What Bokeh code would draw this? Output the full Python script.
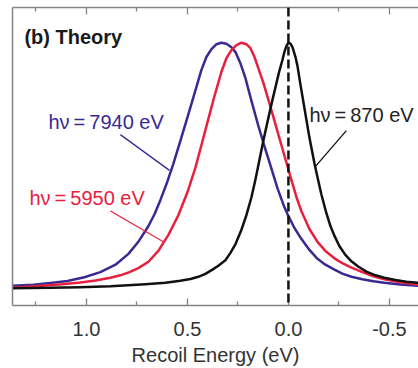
from bokeh.plotting import figure
from bokeh.models import Range1d, LinearAxis, FixedTicker, Span, Label, NumeralTickFormatter
from bokeh.embed import file_html
from bokeh.resources import INLINE

# Recoil energy (eV) and normalized intensity
black_x = [1.366, 1.178, 1.035, 0.881, 0.708, 0.609, 0.535, 0.485, 0.446, 0.411,
           0.376, 0.347, 0.312, 0.287, 0.262, 0.233, 0.208, 0.183, 0.163, 0.149,
           0.124, 0.099, 0.079, 0.059, 0.045, 0.030, 0.020, 0.010, 0.000, -0.010,
           -0.020, -0.035, -0.045, -0.059, -0.079, -0.104, -0.129, -0.144, -0.163, -0.188,
           -0.208, -0.228, -0.252, -0.282, -0.312, -0.347, -0.386, -0.431, -0.475, -0.530,
           -0.584, -0.644]
black_y = [0.002, 0.004, 0.006, 0.010, 0.018, 0.024, 0.032, 0.039, 0.048, 0.060,
           0.077, 0.093, 0.115, 0.145, 0.181, 0.238, 0.298, 0.371, 0.444, 0.500,
           0.601, 0.694, 0.766, 0.835, 0.883, 0.927, 0.960, 0.984, 0.998, 0.994,
           0.980, 0.940, 0.903, 0.831, 0.734, 0.613, 0.508, 0.452, 0.383, 0.306,
           0.254, 0.214, 0.173, 0.137, 0.111, 0.089, 0.069, 0.054, 0.044, 0.035,
           0.028, 0.024]

red_x = [1.366, 1.252, 1.119, 1.030, 0.955, 0.881, 0.832, 0.787, 0.743, 0.693,
         0.644, 0.594, 0.545, 0.500, 0.460, 0.426, 0.396, 0.366, 0.332, 0.307,
         0.282, 0.257, 0.233, 0.208, 0.188, 0.168, 0.149, 0.124, 0.099, 0.069,
         0.040, 0.010, -0.015, -0.040, -0.064, -0.104, -0.144, -0.183, -0.228, -0.267,
         -0.312, -0.366, -0.421, -0.475, -0.554, -0.644]
red_y = [0.004, 0.010, 0.018, 0.025, 0.033, 0.044, 0.054, 0.067, 0.083, 0.109,
         0.153, 0.218, 0.298, 0.391, 0.492, 0.597, 0.690, 0.782, 0.879, 0.935,
         0.968, 0.988, 0.998, 0.992, 0.976, 0.940, 0.895, 0.835, 0.766, 0.681,
         0.597, 0.512, 0.440, 0.371, 0.315, 0.242, 0.190, 0.153, 0.123, 0.103,
         0.085, 0.067, 0.050, 0.038, 0.026, 0.016]

blue_x = [1.366, 1.262, 1.178, 1.094, 1.010, 0.931, 0.856, 0.792, 0.743, 0.693,
          0.663, 0.634, 0.599, 0.569, 0.530, 0.480, 0.431, 0.406, 0.381, 0.356,
          0.332, 0.307, 0.282, 0.262, 0.238, 0.213, 0.183, 0.149, 0.114, 0.089,
          0.054, 0.020, 0.000, -0.030, -0.064, -0.104, -0.144, -0.183, -0.228, -0.267,
          -0.312, -0.366, -0.421, -0.475, -0.554, -0.644]
blue_y = [0.012, 0.016, 0.023, 0.031, 0.046, 0.067, 0.097, 0.141, 0.190, 0.254,
          0.302, 0.359, 0.435, 0.508, 0.613, 0.750, 0.887, 0.940, 0.972, 0.992,
          0.998, 0.994, 0.980, 0.960, 0.915, 0.855, 0.762, 0.661, 0.565, 0.500,
          0.407, 0.331, 0.294, 0.246, 0.202, 0.157, 0.121, 0.097, 0.077, 0.061,
          0.048, 0.038, 0.030, 0.024, 0.017, 0.012]

tick_values = [1.0, 0.5, 0.0, -0.5]
minor_tick_values = [1.25, 0.75, 0.25, -0.25]

panel_title = "(b) Theory"
x_title = "Recoil Energy (eV)"
label_blue = "h\u03bd\u2009=\u20097940 eV"
label_red = "h\u03bd\u2009=\u20095950 eV"
label_black = "h\u03bd\u2009=\u2009870 eV"

BLUE = "#3a2993"
RED = "#e8203e"
BLACK = "#111111"
AXIS = "#858585"
FONT = "Liberation Sans"

p = figure(width=418, height=368, x_range=Range1d(1.366, -0.644), y_range=Range1d(-0.0685, 1.141),
           output_backend="svg", toolbar_location=None, x_axis_location=None, y_axis_location=None,
           min_border_left=12, min_border_right=0, min_border_top=7, min_border_bottom=61)
p.outline_line_color = None
p.xgrid.grid_line_color = None
p.ygrid.grid_line_color = None
p.background_fill_color = "white"
p.border_fill_color = "white"


def style_ticks(ax):
    ax.axis_line_color = AXIS
    ax.axis_line_width = 1.5
    ax.major_tick_line_color = AXIS
    ax.minor_tick_line_color = AXIS
    ax.major_tick_line_width = 1.3
    ax.minor_tick_line_width = 1.3
    ax.major_tick_in = 7
    ax.major_tick_out = 0
    ax.minor_tick_in = 4
    ax.minor_tick_out = 0


bottom = LinearAxis(ticker=FixedTicker(ticks=tick_values, minor_ticks=minor_tick_values),
                    formatter=NumeralTickFormatter(format="0.0"))
style_ticks(bottom)
bottom.major_label_text_font = FONT
bottom.major_label_text_font_size = "20px"
bottom.major_label_text_color = "#333333"
bottom.major_label_standoff = 16
bottom.axis_label = x_title
bottom.axis_label_text_font = FONT
bottom.axis_label_text_font_size = "20px"
bottom.axis_label_text_font_style = "normal"
bottom.axis_label_text_color = "#333333"
bottom.axis_label_standoff = 5
p.add_layout(bottom, "below")

top = LinearAxis(ticker=FixedTicker(ticks=tick_values, minor_ticks=minor_tick_values))
style_ticks(top)
top.major_label_text_font_size = "1px"
top.major_label_text_color = None
top.major_label_standoff = 0
p.add_layout(top, "above")

left = LinearAxis(ticker=FixedTicker(ticks=[]))
left.axis_line_color = AXIS
left.axis_line_width = 1.5
left.major_tick_in = 0
left.major_tick_out = 0
left.minor_tick_in = 0
left.minor_tick_out = 0
left.major_label_text_font_size = "1px"
left.major_label_text_color = None
left.major_label_standoff = 0
p.add_layout(left, "left")

p.line(blue_x, blue_y, line_color=BLUE, line_width=2.5, line_join="round")
p.line(red_x, red_y, line_color=RED, line_width=2.5, line_join="round")
p.line(black_x, black_y, line_color=BLACK, line_width=2.5, line_join="round")

# leader lines from labels to curves
p.line([0.832, 0.589], [0.625, 0.480], line_color=BLUE, line_width=1.3)
p.line([0.881, 0.619], [0.315, 0.190], line_color=RED, line_width=1.3)
p.line([-0.287, -0.134], [0.641, 0.496], line_color=BLACK, line_width=1.3)

p.add_layout(Span(location=0, dimension="height", line_color=BLACK, line_width=2.5, line_dash="9 4"))

p.add_layout(Label(x=1.307, y=1.020, text=panel_title, text_font=FONT, text_font_size="20px",
                   text_font_style="bold", text_color="#1a1a1a", text_baseline="alphabetic"))
p.add_layout(Label(x=1.188, y=0.677, text=label_blue, text_font=FONT, text_font_size="20px",
                   text_color=BLUE, text_baseline="alphabetic"))
p.add_layout(Label(x=1.282, y=0.367, text=label_red, text_font=FONT, text_font_size="20px",
                   text_color=RED, text_baseline="alphabetic"))
p.add_layout(Label(x=-0.104, y=0.705, text=label_black, text_font=FONT, text_font_size="20px",
                   text_color="#222222", text_baseline="alphabetic"))

open("out.html", "w").write(file_html(p, INLINE))
